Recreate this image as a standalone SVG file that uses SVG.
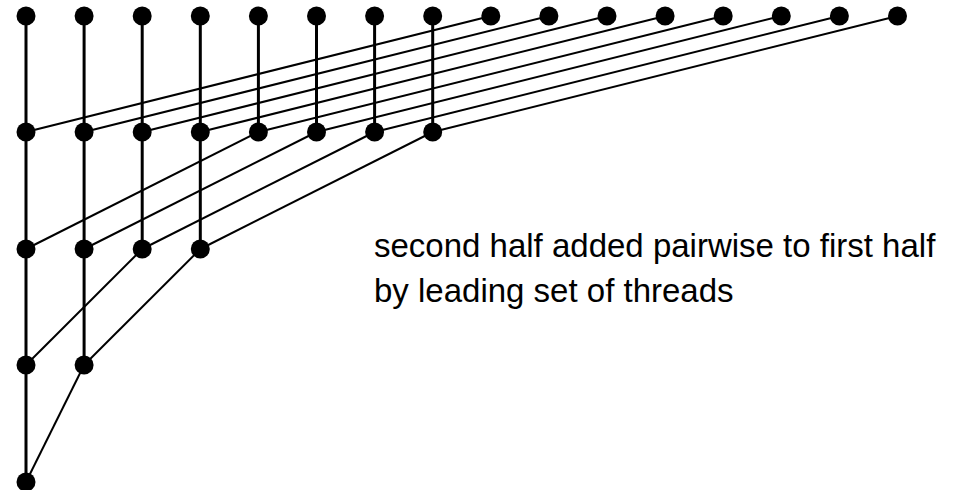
<svg xmlns="http://www.w3.org/2000/svg" width="959" height="490" viewBox="0 0 959 490">
<style>
.v{stroke:#000;stroke-width:3;fill:none}
.d{stroke:#000;stroke-width:2;fill:none}
.n{fill:#000}
.t{font-family:"Liberation Sans",Arial,sans-serif;font-size:33px;fill:#000}
</style>
<rect width="959" height="490" fill="#fff"/>
<g id="connectors">
<line class="v" x1="26" y1="16" x2="26" y2="482"/>
<line class="v" x1="84.1" y1="16" x2="84.1" y2="365"/>
<line class="v" x1="142.2" y1="16" x2="142.2" y2="249"/>
<line class="v" x1="200.3" y1="16" x2="200.3" y2="249"/>
<line class="v" x1="258.4" y1="16" x2="258.4" y2="132"/>
<line class="v" x1="316.5" y1="16" x2="316.5" y2="132"/>
<line class="v" x1="374.6" y1="16" x2="374.6" y2="132"/>
<line class="v" x1="432.7" y1="16" x2="432.7" y2="132"/>
<line class="d" x1="490.8" y1="16" x2="26" y2="132"/>
<line class="d" x1="548.9" y1="16" x2="84.1" y2="132"/>
<line class="d" x1="607" y1="16" x2="142.2" y2="132"/>
<line class="d" x1="665.1" y1="16" x2="200.3" y2="132"/>
<line class="d" x1="723.2" y1="16" x2="258.4" y2="132"/>
<line class="d" x1="781.3" y1="16" x2="316.5" y2="132"/>
<line class="d" x1="839.4" y1="16" x2="374.6" y2="132"/>
<line class="d" x1="897.5" y1="16" x2="432.7" y2="132"/>
<line class="d" x1="258.4" y1="132" x2="26" y2="249"/>
<line class="d" x1="316.5" y1="132" x2="84.1" y2="249"/>
<line class="d" x1="374.6" y1="132" x2="142.2" y2="249"/>
<line class="d" x1="432.7" y1="132" x2="200.3" y2="249"/>
<line class="d" x1="142.2" y1="249" x2="26" y2="365"/>
<line class="d" x1="200.3" y1="249" x2="84.1" y2="365"/>
<line class="d" x1="84.1" y1="365" x2="26" y2="482"/>
</g>
<g id="row1">
<circle class="n" cx="26" cy="16" r="9.5"/><circle class="n" cx="84.1" cy="16" r="9.5"/><circle class="n" cx="142.2" cy="16" r="9.5"/><circle class="n" cx="200.3" cy="16" r="9.5"/><circle class="n" cx="258.4" cy="16" r="9.5"/><circle class="n" cx="316.5" cy="16" r="9.5"/><circle class="n" cx="374.6" cy="16" r="9.5"/><circle class="n" cx="432.7" cy="16" r="9.5"/><circle class="n" cx="490.8" cy="16" r="9.5"/><circle class="n" cx="548.9" cy="16" r="9.5"/><circle class="n" cx="607" cy="16" r="9.5"/><circle class="n" cx="665.1" cy="16" r="9.5"/><circle class="n" cx="723.2" cy="16" r="9.5"/><circle class="n" cx="781.3" cy="16" r="9.5"/><circle class="n" cx="839.4" cy="16" r="9.5"/><circle class="n" cx="897.5" cy="16" r="9.5"/>
</g>
<g id="row2">
<circle class="n" cx="26" cy="132" r="9.5"/><circle class="n" cx="84.1" cy="132" r="9.5"/><circle class="n" cx="142.2" cy="132" r="9.5"/><circle class="n" cx="200.3" cy="132" r="9.5"/><circle class="n" cx="258.4" cy="132" r="9.5"/><circle class="n" cx="316.5" cy="132" r="9.5"/><circle class="n" cx="374.6" cy="132" r="9.5"/><circle class="n" cx="432.7" cy="132" r="9.5"/>
</g>
<g id="row3">
<circle class="n" cx="26" cy="249" r="9.5"/><circle class="n" cx="84.1" cy="249" r="9.5"/><circle class="n" cx="142.2" cy="249" r="9.5"/><circle class="n" cx="200.3" cy="249" r="9.5"/>
</g>
<g id="row4">
<circle class="n" cx="26" cy="365" r="9.5"/><circle class="n" cx="84.1" cy="365" r="9.5"/>
</g>
<g id="row5">
<circle class="n" cx="26" cy="482" r="9.5"/>
</g>
<g id="label">
<text class="t" x="374" y="257">second half added pairwise to first half</text>
<text class="t" x="374" y="302">by leading set of threads</text>
</g>
</svg>
